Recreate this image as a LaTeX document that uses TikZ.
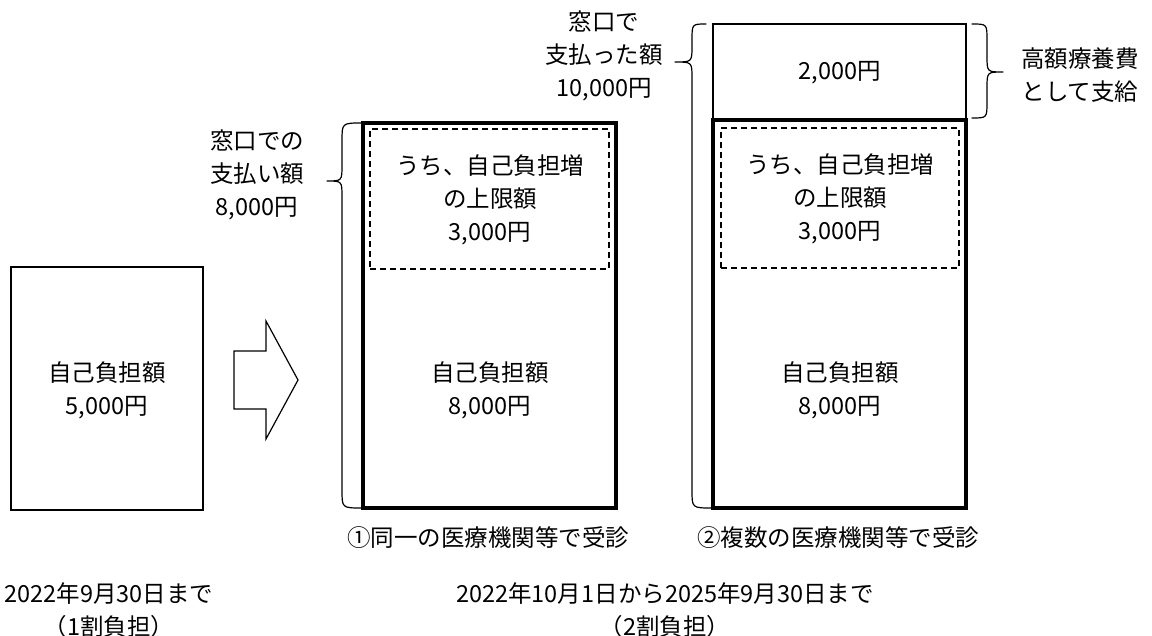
\documentclass[tikz,border=0pt]{standalone}
\usepackage{fontspec}
\setmainfont{Noto Sans CJK JP}
\begin{document}
\begin{tikzpicture}[x=1pt,y=-1pt,
  txt/.style={font=\fontsize{23.5}{33}\selectfont, align=center, inner sep=0pt},
  thinbox/.style={draw, line width=1.3pt, inner sep=0pt},
  thickbox/.style={draw, line width=4pt, inner sep=0pt},
  dashbox/.style={draw, line width=1.2pt, dash pattern=on 6pt off 4pt, inner sep=0pt},
  bracepath/.style={draw, line width=1.2pt, line cap=round, line join=round}]
\path[use as bounding box] (0,0) rectangle (1152,636);

% left box
\node[thinbox, minimum width=192pt, minimum height=243pt] (old) at (107,388.5) {};
\node[txt] (oldtxt) at (107,390) {自己負担額\\5,000円};

% arrow
\draw[line width=1.2pt, line join=miter] (234,351) -- (266,351) -- (266,321) -- (298,380) -- (266,439) -- (266,409) -- (234,409) -- cycle;

% box 1
\node[thickbox, minimum width=253pt, minimum height=385pt] (b1) at (489.5,315.5) {};
\node[dashbox, minimum width=239pt, minimum height=140pt] (d1) at (489.5,199) {};
\node[txt] (d1txt) at (490,200) {うち、自己負担増\\の上限額\\3,000円};
\node[txt] (b1txt) at (490,390) {自己負担額\\8,000円};
\node[txt] (cap1) at (488,538) {①同一の医療機関等で受診};

% box 2
\node[thinbox, minimum width=253pt, minimum height=96pt] (top2) at (839.5,72) {};
\node[txt] (top2txt) at (840,73) {2,000円};
\node[thickbox, minimum width=253pt, minimum height=388pt] (b2) at (839.5,314) {};
\node[dashbox, minimum width=238pt, minimum height=140pt] (d2) at (840,198) {};
\node[txt] (d2txt) at (840,199) {うち、自己負担増\\の上限額\\3,000円};
\node[txt] (b2txt) at (840,390) {自己負担額\\8,000円};
\node[txt] (cap2) at (838,538) {②複数の医療機関等で受診};

% braces
\draw[bracepath] (362,123) .. controls (342,123) .. (342,141) -- (342,165)
  .. controls (342,181) .. (327,181) .. controls (342,181) .. (342,197)
  -- (342,490) .. controls (342,508) .. (362,508);
\draw[bracepath] (706,24) .. controls (692,24) .. (692,40) -- (692,46)
  .. controls (692,62) .. (675,62) .. controls (692,62) .. (692,78)
  -- (692,490) .. controls (692,508) .. (712,508);
\draw[bracepath] (972,24) .. controls (987,24) .. (987,40) -- (987,56)
  .. controls (987,72) .. (1003,72) .. controls (987,72) .. (987,88)
  -- (987,102) .. controls (987,118) .. (972,118);

% brace labels
\node[txt] (lab1) at (257,175) {窓口での\\支払い額\\8,000円};
\node[txt] (lab2) at (604,56) {窓口で\\支払った額\\10,000円};
\node[txt] (lab3) at (1080,75) {高額療養費\\として支給};

% bottom labels
\node[txt] (per1) at (109,610) {2022年9月30日まで\\（1割負担）};
\node[txt] (per2) at (665,610) {2022年10月1日から2025年9月30日まで\\（2割負担）};
\end{tikzpicture}
\end{document}
